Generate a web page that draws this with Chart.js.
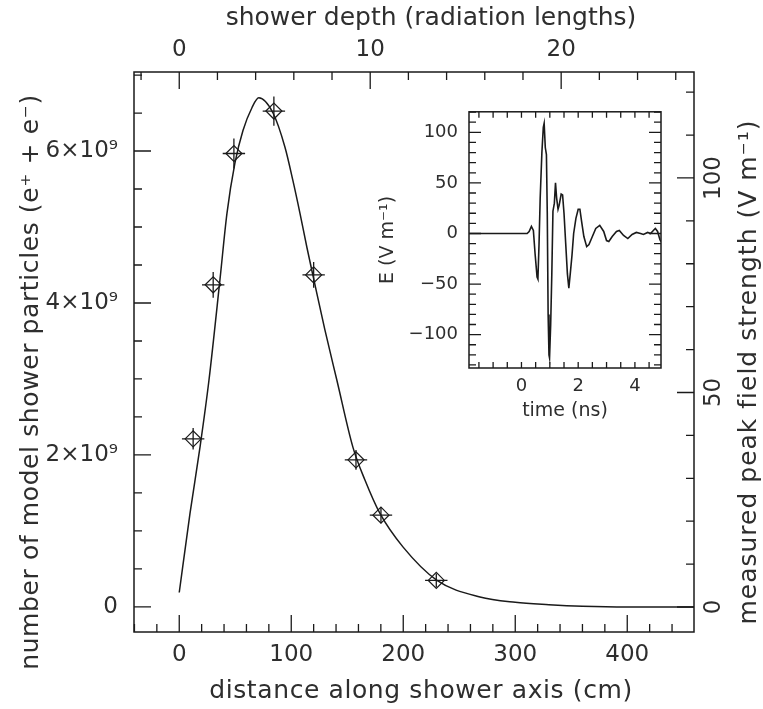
<!DOCTYPE html>
<html lang="en">
<head>
<meta charset="UTF-8" />
<title>Shower profile and measured peak field strength</title>
<script src="https://cdn.jsdelivr.net/npm/chart.js"></script>
<style>
  body { margin: 0; background: #fff; }
  #wrap { position: relative; width: 763px; height: 709px; }
  #main { position: absolute; left: 0; top: 0; }
  #inset { position: absolute; left: 370px; top: 90px; }
</style>
</head>
<body>
<div id="wrap">
  <canvas id="main" width="763" height="709"></canvas>
  <canvas id="inset" width="300" height="340"></canvas>
</div>
<script>
// model shower curve: distance along axis (cm) -> particles (units of 1e9)
const modelDistance  = [0, 9.6, 18.5, 26.5, 36.3, 42.6, 49.7, 56.9, 64.9, 71, 83.7, 94.4, 101.5, 107.8, 114, 120.3, 130, 140.8, 155.1, 165.8, 179.2, 199.7, 230.1, 268.5, 300, 330, 360, 400, 460];
const modelParticles = [0.19, 1.23, 2.10, 2.98, 4.30, 5.18, 5.84, 6.27, 6.57, 6.70, 6.50, 6.05, 5.61, 5.18, 4.73, 4.30, 3.65, 2.98, 2.10, 1.67, 1.23, 0.79, 0.35, 0.13, 0.06, 0.03, 0.01, 0, 0];

// measured peak field strength (V/m) with error bars
const measDistance = [12.4, 30.3, 48.8, 84.5, 120.0, 157.8, 180.1, 229.5];
const measField    = [39.2, 75.1, 105.7, 115.6, 77.4, 34.3, 21.4, 6.2];
const measDistErr  = [10, 10, 10, 10, 10, 10, 10, 10];
const measFieldErr = [2.5, 3.0, 3.5, 3.4, 3.0, 2.3, 1.9, 1.6];

// inset: field pulse, time (ns) -> E (V/m)
const pulseTime  = [-1.85, 0.2, 0.27, 0.35, 0.42, 0.48, 0.55, 0.58, 0.62, 0.66, 0.72, 0.77, 0.80, 0.84, 0.88, 0.91, 0.94, 0.97, 0.99, 1.03, 1.07, 1.11, 1.16, 1.2, 1.24, 1.29, 1.33, 1.4, 1.45, 1.5, 1.56, 1.62, 1.67, 1.72, 1.78, 1.84, 1.92, 2.0, 2.06, 2.12, 2.2, 2.3, 2.38, 2.5, 2.62, 2.76, 2.9, 3.0, 3.08, 3.2, 3.35, 3.45, 3.6, 3.75, 3.9, 4.05, 4.2, 4.3, 4.45, 4.55, 4.65, 4.72, 4.8, 4.88, 4.92];
const pulseField = [0, 0, 2, 7, 3, -20, -43, -45, -10, 35, 80, 105, 109, 85, 78, 20, -80, -120, -123, -90, -40, 22, 30, 50, 35, 24, 28, 39, 38, 20, -10, -40, -54, -40, -22, 0, 15, 24, 24, 12, -3, -13, -11, -3, 5, 8, 2, -7, -8, -3, 2, 3, -2, -5, -1, 1, 0, -1, 1, 0, 3, 5, 2, -6, -8];

// labelled tick values
const xTickValues      = [0, 100, 200, 300, 400];
const xTopTickValues   = [0, 10, 20];
const yTickValues      = [0, 2, 4, 6];
const yRightTickValues = [0, 50, 100];
const insetXTickValues = [0, 2, 4];
const insetYTickValues = [-100, -50, 0, 50, 100];

const radLength = 17.05;   // cm per radiation length (top axis)
const xMin = -40.4, xMax = 459.6;
const nMin = -0.33, nMax = 7.04;
const fMin = -5.83, fMax = 124.7;

const ink = '#1a1a1a';
const txt = '#2e2e2e';
const tickFont = { family: 'DejaVu Sans', size: 23 };
const titleFont = { family: 'DejaVu Sans', size: 25 };
const minus = v => String(v).replace('-', '\u2212');
const fixedTicks = values => scale => { scale.ticks = values.map(v => ({ value: v })); };

function frameAndTicks(specs, frameWidth) {
  return {
    id: 'frameAndTicks',
    afterDatasetsDraw(chart) {
      const { ctx, chartArea: a } = chart;
      ctx.save();
      ctx.strokeStyle = ink;
      ctx.lineWidth = frameWidth;
      ctx.strokeRect(a.left, a.top, a.right - a.left, a.bottom - a.top);
      ctx.lineWidth = 1.3;
      ctx.beginPath();
      specs.forEach(sp => {
        const s = chart.scales[sp.id];
        const first = Math.ceil(s.min / sp.minor);
        const last = Math.floor(s.max / sp.minor);
        for (let i = first; i <= last; i++) {
          const v = i * sp.minor;
          const r = v / sp.major;
          const len = Math.abs(r - Math.round(r)) < 1e-6 ? sp.majorLen : sp.minorLen;
          const p = s.getPixelForValue(v);
          sp.sides.forEach(side => {
            if (side === 'bottom') { ctx.moveTo(p, a.bottom); ctx.lineTo(p, a.bottom - len); }
            if (side === 'top')    { ctx.moveTo(p, a.top);    ctx.lineTo(p, a.top + len); }
            if (side === 'left')   { ctx.moveTo(a.left, p);   ctx.lineTo(a.left + len, p); }
            if (side === 'right')  { ctx.moveTo(a.right, p);  ctx.lineTo(a.right - len, p); }
          });
        }
      });
      ctx.stroke();
      ctx.restore();
    }
  };
}

const errorBars = {
  id: 'errorBars',
  afterDatasetsDraw(chart) {
    const { ctx } = chart;
    const sx = chart.scales.x, sy = chart.scales.yRight;
    ctx.save();
    ctx.strokeStyle = ink;
    ctx.lineWidth = 1.3;
    ctx.beginPath();
    measDistance.forEach((d, i) => {
      const px = sx.getPixelForValue(d), py = sy.getPixelForValue(measField[i]);
      ctx.moveTo(sx.getPixelForValue(d - measDistErr[i]), py);
      ctx.lineTo(sx.getPixelForValue(d + measDistErr[i]), py);
      ctx.moveTo(px, sy.getPixelForValue(measField[i] - measFieldErr[i]));
      ctx.lineTo(px, sy.getPixelForValue(measField[i] + measFieldErr[i]));
    });
    ctx.stroke();
    ctx.restore();
  }
};

// axis titles, placed like the original figure
const mainTitles = [
  { text: 'shower depth (radiation lengths)', x: 431, y: 18, rot: 0, spacing: '0px' },
  { text: 'distance along shower axis (cm)', x: 421, y: 691, rot: 0, spacing: '0.6px' },
  { text: 'number of model shower particles (e\u207A + e\u207B)', x: 31, y: 382, rot: -Math.PI / 2, spacing: '0.6px' },
  { text: 'measured peak field strength (V m\u207B\u00B9)', x: 749, y: 372, rot: -Math.PI / 2, spacing: '1px' }
];

const axisTitles = {
  id: 'axisTitles',
  afterDraw(chart) {
    const { ctx } = chart;
    mainTitles.forEach(t => {
      ctx.save();
      ctx.fillStyle = txt;
      ctx.font = titleFont.size + 'px "' + titleFont.family + '"';
      ctx.letterSpacing = t.spacing;
      ctx.textAlign = 'center';
      ctx.textBaseline = 'middle';
      ctx.translate(t.x, t.y);
      ctx.rotate(t.rot);
      ctx.fillText(t.text, 0, 0);
      ctx.restore();
    });
  }
};

const mainTicks = [
  { id: 'x',      minor: 20,  major: 100, minorLen: 8, majorLen: 17, sides: ['bottom'] },
  { id: 'xTop',   minor: 2,   major: 10,  minorLen: 8, majorLen: 17, sides: ['top'] },
  { id: 'y',      minor: 0.5, major: 2,   minorLen: 8, majorLen: 17, sides: ['left'] },
  { id: 'yRight', minor: 10,  major: 50,  minorLen: 8, majorLen: 17, sides: ['right'] }
];

const noGrid = { display: false, drawTicks: false };

new Chart(document.getElementById('main'), {
  type: 'line',
  data: {
    datasets: [
      {
        label: 'model shower',
        data: modelDistance.map((x, i) => ({ x, y: modelParticles[i] })),
        xAxisID: 'x', yAxisID: 'y',
        borderColor: ink, borderWidth: 1.5,
        pointRadius: 0, fill: false,
        cubicInterpolationMode: 'monotone'
      },
      {
        label: 'measured',
        data: measDistance.map((x, i) => ({ x, y: measField[i] })),
        xAxisID: 'x', yAxisID: 'yRight',
        showLine: false,
        pointStyle: 'rectRot', pointRadius: 8,
        borderColor: ink, borderWidth: 1.2,
        backgroundColor: 'rgba(0,0,0,0)'
      }
    ]
  },
  options: {
    responsive: false,
    animation: false,
    devicePixelRatio: 1,
    layout: { padding: 0 },
    plugins: { legend: { display: false }, tooltip: { enabled: false } },
    scales: {
      x: {
        type: 'linear', position: 'bottom', min: xMin, max: xMax,
        grid: noGrid, border: { display: false },
        ticks: { font: tickFont, color: txt, padding: 9, maxRotation: 0 },
        afterBuildTicks: fixedTicks(xTickValues),
        afterFit(s) { s.height = 77; }
      },
      xTop: {
        type: 'linear', position: 'top', min: xMin / radLength, max: xMax / radLength,
        grid: noGrid, border: { display: false },
        ticks: { font: tickFont, color: txt, padding: 8, maxRotation: 0 },
        afterBuildTicks: fixedTicks(xTopTickValues),
        afterFit(s) { s.height = 72; }
      },
      y: {
        type: 'linear', position: 'left', min: nMin, max: nMax,
        grid: noGrid, border: { display: false },
        ticks: { font: tickFont, color: txt, padding: 16,
                 callback: v => v === 0 ? '0' : v + '\u00D710\u2079' },
        afterBuildTicks: fixedTicks(yTickValues),
        afterFit(s) { s.width = 134; }
      },
      yRight: {
        type: 'linear', position: 'right', min: fMin, max: fMax,
        grid: noGrid, border: { display: false },
        ticks: { font: tickFont, color: txt, padding: -2,
                 minRotation: 90, maxRotation: 90, crossAlign: 'center' },
        afterBuildTicks: fixedTicks(yRightTickValues),
        afterFit(s) { s.width = 69; }
      }
    }
  },
  plugins: [frameAndTicks(mainTicks, 1.5), errorBars, axisTitles]
});

// inset pulse
const insetTickFont = { family: 'DejaVu Sans', size: 18 };
const insetTitleFont = { family: 'DejaVu Sans', size: 19 };
const insetTicks = [
  { id: 'x', minor: 0.5, major: 2,  minorLen: 6, majorLen: 6,  sides: ['bottom', 'top'] },
  { id: 'y', minor: 10,  major: 50, minorLen: 7, majorLen: 12, sides: ['left', 'right'] }
];

new Chart(document.getElementById('inset'), {
  type: 'line',
  data: {
    datasets: [{
      label: 'E',
      data: pulseTime.map((x, i) => ({ x, y: pulseField[i] })),
      borderColor: ink, borderWidth: 1.6,
      pointRadius: 0, fill: false, tension: 0
    }]
  },
  options: {
    responsive: false,
    animation: false,
    devicePixelRatio: 1,
    layout: { padding: { top: 12, right: 9 } },
    plugins: { legend: { display: false }, tooltip: { enabled: false } },
    scales: {
      x: {
        type: 'linear', position: 'bottom', min: -1.85, max: 4.92,
        grid: noGrid, border: { display: false },
        ticks: { font: insetTickFont, color: txt, padding: 8, maxRotation: 0 },
        afterBuildTicks: fixedTicks(insetXTickValues),
        title: { display: true, text: 'time (ns)', font: insetTitleFont, color: txt, padding: { top: 0, bottom: 8 } },
        afterFit(s) { s.height = 62; }
      },
      y: {
        type: 'linear', position: 'left', min: -133, max: 120.3,
        grid: noGrid, border: { display: false },
        ticks: { font: insetTickFont, color: txt, padding: 11, callback: minus },
        afterBuildTicks: fixedTicks(insetYTickValues),
        title: { display: true, text: 'E (V m\u207B\u00B9)', font: insetTitleFont, color: txt, padding: { top: 7, bottom: 0 } },
        afterFit(s) { s.width = 99; }
      }
    }
  },
  plugins: [frameAndTicks(insetTicks, 1.5)]
});
</script>
</body>
</html>
